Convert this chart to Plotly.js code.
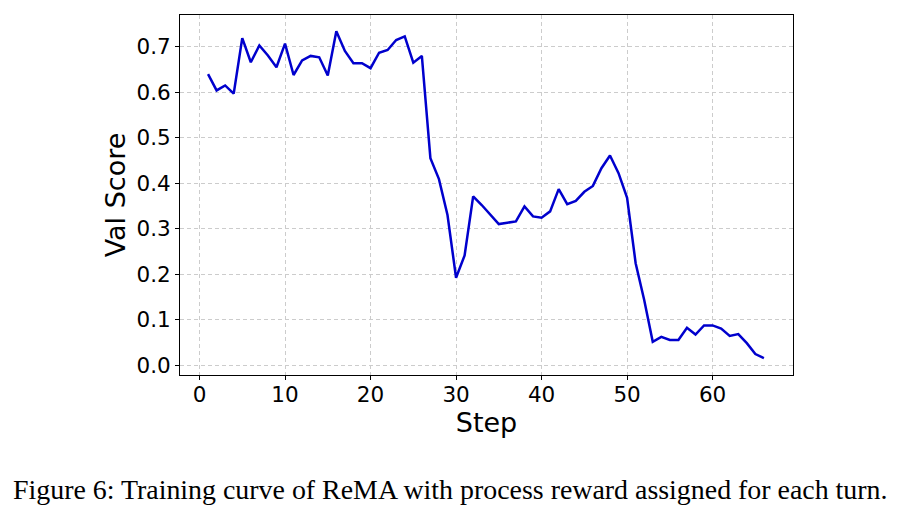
<!DOCTYPE html>
<html>
<head>
<meta charset="utf-8">
<script src="https://cdn.plot.ly/plotly-3.0.1.min.js"></script>
<style>html,body{margin:0;padding:0;background:#fff;}#chart{width:898px;height:512px;}</style>
</head>
<body>
<div id="chart"></div>
<script>
const steps = [];
for (let i = 1; i <= 66; i++) steps.push(i);
const valScore = [
  0.640, 0.604, 0.615, 0.597, 0.719, 0.666, 0.703, 0.681, 0.655, 0.707,
  0.638, 0.670, 0.680, 0.677, 0.637, 0.734, 0.691, 0.664, 0.664, 0.653,
  0.687, 0.693, 0.715, 0.723, 0.665, 0.680, 0.455, 0.409, 0.330, 0.192,
  0.241, 0.371, 0.352, 0.330, 0.310, 0.313, 0.316, 0.349, 0.327, 0.324,
  0.338, 0.387, 0.354, 0.361, 0.381, 0.394, 0.433, 0.461, 0.422, 0.368,
  0.224, 0.143, 0.051, 0.062, 0.055, 0.055, 0.082, 0.067, 0.087, 0.087,
  0.080, 0.064, 0.068, 0.048, 0.024, 0.015
];
const xTicks = [0, 10, 20, 30, 40, 50, 60];
const yTicks = [0.0, 0.1, 0.2, 0.3, 0.4, 0.5, 0.6, 0.7];
const yTickText = yTicks.map(v => v.toFixed(1));
const captionText = "Figure 6: Training curve of ReMA with process reward assigned for each turn.";

const trace = {
  x: steps, y: valScore, type: 'scatter', mode: 'lines',
  line: {color: '#0000CD', width: 2.5}, hoverinfo: 'skip'
};
const axisCommon = {
  showline: true, mirror: true, linecolor: '#000', linewidth: 1,
  ticks: 'outside', ticklen: 4, tickcolor: '#000', tickwidth: 1,
  showgrid: true, gridcolor: '#cccccc', griddash: '4px,3px', gridwidth: 1,
  zeroline: false,
  tickfont: {family: 'DejaVu Sans', size: 21.5, color: '#000'}
};
const layout = {
  width: 898, height: 512,
  margin: {l: 180, r: 105, t: 15, b: 137},
  paper_bgcolor: '#fff', plot_bgcolor: '#fff',
  showlegend: false,
  xaxis: Object.assign({}, axisCommon, {
    range: [-2.28, 69.4], tickvals: xTicks, ticklabelstandoff: -4,
    title: {text: 'Step', font: {family: 'DejaVu Sans', size: 27, color: '#000'}, standoff: 0}
  }),
  yaxis: Object.assign({}, axisCommon, {
    range: [-0.022, 0.770], tickvals: yTicks, ticktext: yTickText,
    title: {text: 'Val Score', font: {family: 'DejaVu Sans', size: 27, color: '#000'}, standoff: 3}
  }),
  annotations: [{
    text: captionText, xref: 'paper', yref: 'paper',
    x: -0.275, y: -0.317, xanchor: 'left', yanchor: 'middle',
    showarrow: false,
    font: {family: 'Liberation Serif', size: 27.9, color: '#000'}
  }]
};
Plotly.newPlot('chart', [trace], layout, {displayModeBar: false, staticPlot: true});
</script>
</body>
</html>
